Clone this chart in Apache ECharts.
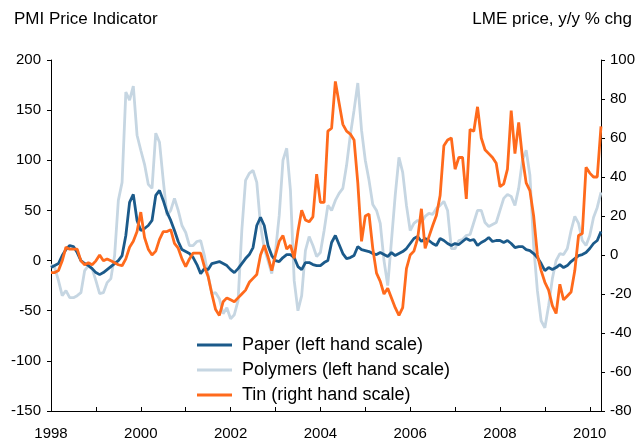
<!DOCTYPE html>
<html>
<head>
<meta charset="utf-8">
<script src="https://cdn.jsdelivr.net/npm/echarts@6/dist/echarts.min.js"></script>
<style>
html,body{margin:0;padding:0;background:#fff;}
#chart{width:640px;height:441px;}
</style>
</head>
<body>
<div id="chart"></div>
<script>
// Monthly data, Jan 1998 .. Apr 2010
var startYear = 1998;
var yearTicks = ['1998','2000','2002','2004','2006','2008','2010'];
var leftTicks = [-150,-100,-50,0,50,100,150,200];
var rightTicks = [-80,-60,-40,-20,0,20,40,60,80,100];

var paper = [
 -7,-5,-3,5,11,15,14,8,0,-3,-5,-8,
 -12,-14,-12,-9,-6,-3,0,5,25,58,66,40,
 30,32,35,40,65,70,60,48,40,30,19,11,
 9,7,3,-4,-13,-8,-9,-3,-2,-1,-3,-5,
 -9,-12,-8,-3,2,6,13,35,43,35,15,5,
 0,-1,3,6,6,3,-6,-9,-2,-2,-4,-5,
 -5,-2,0,18,25,16,7,2,3,5,14,11,
 10,9,7,6,8,6,4,8,5,7,9,12,
 17,22,24,19,22,20,17,15,22,20,17,15,
 17,16,19,22,20,21,15,18,20,23,19,20,
 20,18,20,17,13,14,14,11,10,7,3,-3,
 -10,-7,-9,-7,-4,-7,-5,-1,2,5,6,8,
 12,17,20,29
];
var polymers = [
 -4,-7,-20,-35,-30,-37,-37,-35,-32,-10,-5,-8,
 -20,-33,-32,-22,-18,5,60,78,168,160,174,125,
 110,96,76,72,127,118,80,45,50,62,50,35,
 28,15,15,19,20,5,-15,-33,-32,-38,-53,-47,
 -58,-54,-40,30,80,87,90,78,35,12,0,-13,
 9,45,100,112,70,-20,-50,-35,10,24,15,4,
 8,30,55,50,60,67,72,95,125,150,177,130,
 100,80,56,50,37,0,-25,20,65,103,88,55,
 30,37,40,38,44,47,46,52,55,59,50,12,
 12,20,21,25,26,38,50,50,38,34,36,38,
 50,62,66,64,55,72,100,110,85,15,-30,-60,
 -67,-45,-18,0,7,6,12,30,44,37,20,15,
 25,43,53,68
];
var tin = [
 -9,-9,-8,-3,4,3,3,3,-3,-5,-4,-5,
 -3,0,-3,-2,-3,-4,-5,-5.5,-2,4,7,12,
 22,9,3,0,2,8,12,12,13,6,3.5,-2,
 -6,-2,1,1,1,-6,-11,-20,-28,-31,-24,-22,
 -23,-24,-22,-20,-18,-14,-12,-10,0,5,-1,-8,
 0,7,10,3,5,-1.7,12,23,18,17,19.5,41.5,
 27,27,63.5,65,89,78,67,63.5,62,59,37,7,
 20,21,3.4,-9.3,-13.5,-20,-17,-22,-27,-31,-27,-7,
 0,2,8.5,23.7,3.4,9.3,15,20.3,30.5,56,59,60,
 44,50,50,28.8,64.4,63.5,76,60,54,52,50,47,
 35,36.5,44,74,52,68,50,37,33,20,0,-8,
 -14,-18,-26,-30,-15,-23,-21,-19,-8,10,11,45,
 42,40,40,66
];

function toSeries(arr){
  return arr.map(function(v,i){ return [startYear + i/12, v]; });
}
var endX = startYear + (paper.length-1)/12;

var font = 'Liberation Sans, Arial, sans-serif';
var chart = echarts.init(document.getElementById('chart'));
chart.setOption({
  animation:false,
  backgroundColor:'#ffffff',
  title:[
    {text:'PMI Price Indicator', left:9, top:6,
     textStyle:{fontFamily:font, fontSize:17, fontWeight:'normal', color:'#000'}},
    {text:'LME price, y/y % chg', right:3, top:6,
     textStyle:{fontFamily:font, fontSize:17, fontWeight:'normal', color:'#000'}}
  ],
  grid:{left:51, right:39, top:60, bottom:27},
  legend:{
    orient:'vertical', left:197, top:336, padding:0,
    icon:'rect', itemWidth:35, itemHeight:3, itemGap:7,
    data:['Paper (left hand scale)','Polymers (left hand scale)','Tin (right hand scale)'],
    textStyle:{fontFamily:font, fontSize:18, color:'#000', padding:[0,0,0,5]}
  },
  xAxis:{
    type:'value', min:startYear, max:endX, interval:1,
    axisLine:{onZero:false, lineStyle:{color:'#000', width:1}},
    axisTick:{inside:true, length:4, lineStyle:{color:'#000'}},
    splitLine:{show:false},
    axisLabel:{
      fontFamily:font, fontSize:15, color:'#000', margin:15,
      formatter:function(v){
        var s = String(Math.round(v));
        return (Math.abs(v-Math.round(v))<1e-6 && yearTicks.indexOf(s)>=0) ? s : '';
      }
    }
  },
  yAxis:[
    {type:'value', min:leftTicks[0], max:leftTicks[leftTicks.length-1], interval:50, position:'left',
     axisLine:{show:true, onZero:false, lineStyle:{color:'#000'}},
     axisTick:{show:true, length:4, lineStyle:{color:'#000'}},
     splitLine:{show:false},
     axisLabel:{fontFamily:font, fontSize:15, color:'#000', margin:10}},
    {type:'value', min:rightTicks[0], max:rightTicks[rightTicks.length-1], interval:20, position:'right',
     axisLine:{show:true, onZero:false, lineStyle:{color:'#000'}},
     axisTick:{show:true, length:4, lineStyle:{color:'#000'}},
     splitLine:{show:false},
     axisLabel:{fontFamily:font, fontSize:15, color:'#000', margin:9}}
  ],
  series:[
    {name:'Polymers (left hand scale)', type:'line', yAxisIndex:0, symbol:'none',
     data:toSeries(polymers), lineStyle:{color:'#c6d6e2', width:2.8}, itemStyle:{color:'#c6d6e2'}},
    {name:'Paper (left hand scale)', type:'line', yAxisIndex:0, symbol:'none',
     data:toSeries(paper), lineStyle:{color:'#1b5a8a', width:2.8}, itemStyle:{color:'#1b5a8a'}},
    {name:'Tin (right hand scale)', type:'line', yAxisIndex:1, symbol:'none',
     data:toSeries(tin), lineStyle:{color:'#ff6a1c', width:2.8}, itemStyle:{color:'#ff6a1c'}}
  ]
});
</script>
</body>
</html>
